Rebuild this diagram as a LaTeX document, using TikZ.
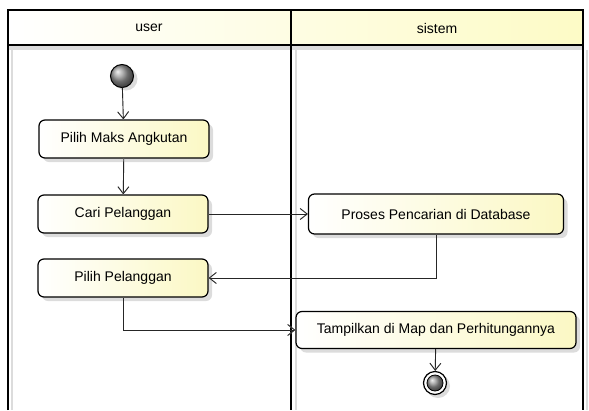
\documentclass[tikz,border=0pt]{standalone}
\usepackage{fontspec}
\setmainfont{Liberation Sans}
\usetikzlibrary{arrows.meta,shadows}
\definecolor{hdryellow}{HTML}{FDFBC6}
\definecolor{actyellow}{HTML}{FBF8C4}
\definecolor{shadowgray}{HTML}{DCDCDC}
\tikzset{
  lane/.style={line width=1.6pt, black},
  laneshadow/.style={line width=1.6pt, shadowgray},
  lbl/.style={font=\fontsize{14pt}{16pt}\selectfont},
  act/.style={draw, line width=1.2pt, rounded corners=6pt, minimum width=170pt,
    minimum height=38pt, left color=white, right color=actyellow, lbl,
    drop shadow={shadow xshift=4pt, shadow yshift=-4pt, fill=shadowgray, opacity=1}},
  flow/.style={line width=0.9pt, draw=black!85, -{Straight Barb[length=7pt,width=11pt]}},
  flowshadow/.style={line width=0.9pt, draw=shadowgray, shift={(3,3)}, -{Straight Barb[length=7pt,width=11pt]}},
}
\begin{document}
\begin{tikzpicture}[x=1pt,y=-1pt]
\useasboundingbox (0,0) rectangle (589,410);
% header band
\shade[left color=white, right color=hdryellow] (8,10) rectangle (583,45);
\fill[shadowgray] (8,46) rectangle (583,50);
% lane borders with their light shadows
\draw[laneshadow] (12,50) -- (12,410);
\draw[laneshadow] (296,50) -- (296,410);
\draw[laneshadow] (587,50) -- (587,410);
\draw[lane] (8,410) -- (8,10) -- (583,10) -- (583,410);
\draw[lane] (291,10) -- (291,410);
\draw[lane] (8,45) -- (583,45);
\node[lbl] (huser) at (149,28) {user};
\node[lbl] (hsys) at (437,28) {sistem};

% initial and final nodes
\fill[shadowgray] (126,79) circle (11.5pt);
\node[circle, draw, line width=1pt, minimum size=23pt, inner sep=0pt,
  ball color=gray!80] (init) at (122,76) {};
\node[act] (a1) at (124,139) {Pilih Maks Angkutan};
\node[act] (a2) at (123,214) {Cari Pelanggan};
\node[act] (a3) at (123,278) {Pilih Pelanggan};
\node[act, minimum width=255pt, minimum height=40pt] (a4) at (436,214) {Proses Pencarian di Database};
\node[act, minimum width=280pt, minimum height=37pt] (a5) at (436,330) {Tampilkan di Map dan Perhitungannya};
\fill[shadowgray] (438,386) circle (12pt);
\node[circle, draw, line width=1.2pt, fill=white, minimum size=23pt, inner sep=0pt] (fin) at (435,383) {};
\shade[ball color=gray!80] (fin.center) circle (8pt);
\draw[line width=0.8pt] (fin.center) circle (8pt);

% connector shadows
\draw[flowshadow] (init) -- (a1);
\draw[flowshadow] (a1) -- (a2);
\draw[flowshadow] (a2) -- (a4);
\draw[flowshadow] (a4.south) |- (a3.east);
\draw[flowshadow] (a3.south) |- (a5.west);
\draw[flowshadow] (a5) -- (fin);
% connectors
\draw[flow] (init) -- (a1);
\draw[flow] (a1) -- (a2);
\draw[flow] (a2) -- (a4);
\draw[flow] (a4.south) |- (a3.east);
\draw[flow] (a3.south) |- (a5.west);
\draw[flow] (a5) -- (fin);
\end{tikzpicture}
\end{document}
